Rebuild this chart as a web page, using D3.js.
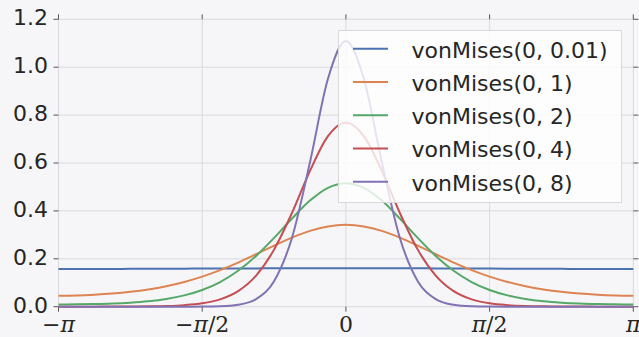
<!DOCTYPE html>
<html>
<head>
<meta charset="utf-8">
<script src="https://cdn.jsdelivr.net/npm/d3@7"></script>
<style>
  html, body { margin: 0; padding: 0; background: #f6f6f8; }
  svg { display: block; }
</style>
</head>
<body>
<div id="chart"></div>
<script>
// sample positions, in multiples of pi (steps of pi/16)
const xPi = [-1, -0.9375, -0.875, -0.8125, -0.75, -0.6875, -0.625, -0.5625, -0.5,
  -0.4375, -0.375, -0.3125, -0.25, -0.1875, -0.125, -0.0625, 0,
  0.0625, 0.125, 0.1875, 0.25, 0.3125, 0.375, 0.4375, 0.5,
  0.5625, 0.625, 0.6875, 0.75, 0.8125, 0.875, 0.9375, 1];

// densities (symmetric about 0)
const k001 = [0.1576, 0.1576, 0.1577, 0.1578, 0.1580, 0.1583, 0.1586, 0.1589, 0.1592,
  0.1595, 0.1598, 0.1600, 0.1603, 0.1605, 0.1606, 0.1607, 0.1608,
  0.1607, 0.1606, 0.1605, 0.1603, 0.1600, 0.1598, 0.1595, 0.1592,
  0.1589, 0.1586, 0.1583, 0.1580, 0.1578, 0.1577, 0.1576, 0.1576];
const k1 = [0.0462, 0.0471, 0.0499, 0.0547, 0.0620, 0.0721, 0.0857, 0.1034, 0.1257,
  0.1528, 0.1843, 0.2191, 0.2550, 0.2887, 0.3167, 0.3352, 0.3417,
  0.3352, 0.3167, 0.2887, 0.2550, 0.2191, 0.1843, 0.1528, 0.1257,
  0.1034, 0.0857, 0.0721, 0.0620, 0.0547, 0.0499, 0.0471, 0.0462];
const k2 = [0.0094, 0.0098, 0.0110, 0.0132, 0.0170, 0.0230, 0.0325, 0.0473, 0.0698,
  0.1031, 0.1501, 0.2121, 0.2872, 0.3683, 0.4430, 0.4965, 0.5159,
  0.4965, 0.4430, 0.3683, 0.2872, 0.2121, 0.1501, 0.1031, 0.0698,
  0.0473, 0.0325, 0.0230, 0.0170, 0.0132, 0.0110, 0.0098, 0.0094];
const k4 = [0.0003, 0.0003, 0.0003, 0.0005, 0.0008, 0.0015, 0.0030, 0.0065, 0.0141,
  0.0307, 0.0651, 0.1300, 0.2383, 0.3918, 0.5671, 0.7120, 0.7689,
  0.7120, 0.5671, 0.3918, 0.2383, 0.1300, 0.0651, 0.0307, 0.0141,
  0.0065, 0.0030, 0.0015, 0.0008, 0.0005, 0.0003, 0.0003, 0.0003];
const k8 = [0, 0, 0, 0, 0, 0, 0, 0.0001, 0.0004,
  0.0018, 0.0080, 0.0317, 0.1066, 0.2882, 0.6035, 0.9515, 1.1096,
  0.9515, 0.6035, 0.2882, 0.1066, 0.0317, 0.0080, 0.0018, 0.0004,
  0.0001, 0, 0, 0, 0, 0, 0, 0];

const seriesNames = ['vonMises(0, 0.01)', 'vonMises(0, 1)', 'vonMises(0, 2)', 'vonMises(0, 4)', 'vonMises(0, 8)'];
const seriesValues = [k001, k1, k2, k4, k8];
const colors = ['#4C72B0', '#DD8452', '#55A868', '#C44E52', '#8172B3'];

const yTicks = [0, 0.2, 0.4, 0.6, 0.8, 1.0, 1.2];
const xTicks = [-1, -0.5, 0, 0.5, 1];
const xTickParts = [['−', 'π', ''], ['−', 'π', '/2'], ['', '', '0'], ['', 'π', '/2'], ['', 'π', '']];

const width = 639, height = 337;
const margin = { top: 19.3, right: 5.7, bottom: 30.3, left: 58.5 };
const w = width - margin.left - margin.right;
const h = height - margin.top - margin.bottom;

const svg = d3.select('#chart').append('svg')
  .attr('width', width)
  .attr('height', height);

svg.append('rect').attr('width', width).attr('height', height).attr('fill', '#f6f6f8');

const g = svg.append('g').attr('transform', `translate(${margin.left},${margin.top})`);

const x = d3.scaleLinear().domain([-Math.PI, Math.PI]).range([0, w]);
const y = d3.scaleLinear().domain([0, 1.2]).range([h, 0]);

const gridColor = '#dadade';
const tickColor = '#555';

// grid
g.append('g').selectAll('line').data(yTicks).join('line')
  .attr('x1', 0).attr('x2', w)
  .attr('y1', d => y(d)).attr('y2', d => y(d))
  .attr('stroke', gridColor).attr('stroke-width', 1);
g.append('g').selectAll('line').data(xTicks).join('line')
  .attr('x1', d => x(d * Math.PI)).attr('x2', d => x(d * Math.PI))
  .attr('y1', 0).attr('y2', h)
  .attr('stroke', gridColor).attr('stroke-width', 1);

// ticks on all four sides
const tickLen = 5;
g.append('g').selectAll('line').data(yTicks).join('line')
  .attr('x1', -tickLen).attr('x2', 0)
  .attr('y1', d => y(d)).attr('y2', d => y(d))
  .attr('stroke', tickColor);
g.append('g').selectAll('line').data(yTicks).join('line')
  .attr('x1', w).attr('x2', w + tickLen)
  .attr('y1', d => y(d)).attr('y2', d => y(d))
  .attr('stroke', tickColor);
g.append('g').selectAll('line').data(xTicks).join('line')
  .attr('x1', d => x(d * Math.PI)).attr('x2', d => x(d * Math.PI))
  .attr('y1', h).attr('y2', h + tickLen)
  .attr('stroke', tickColor);
g.append('g').selectAll('line').data(xTicks).join('line')
  .attr('x1', d => x(d * Math.PI)).attr('x2', d => x(d * Math.PI))
  .attr('y1', -tickLen).attr('y2', 0)
  .attr('stroke', tickColor);

// y tick labels
g.append('g').selectAll('text').data(yTicks).join('text')
  .attr('x', -10.5)
  .attr('y', d => y(d))
  .attr('dy', '0.28em')
  .attr('text-anchor', 'end')
  .attr('font-family', 'DejaVu Sans')
  .attr('font-size', '22px')
  .attr('fill', '#262626')
  .text(d => d.toFixed(1));

// x tick labels (math style)
const xl = g.append('g').selectAll('text').data(xTicks).join('text')
  .attr('x', d => x(d * Math.PI))
  .attr('y', h + 25.5)
  .attr('text-anchor', 'middle')
  .attr('font-family', 'DejaVu Serif')
  .attr('font-size', '22px')
  .attr('fill', '#262626');
xl.each(function (d, i) {
  const parts = xTickParts[i];
  const t = d3.select(this);
  if (parts[0]) t.append('tspan').text(parts[0]);
  if (parts[1]) t.append('tspan').attr('font-style', 'italic').text(parts[1]);
  if (parts[2]) t.append('tspan').text(parts[2]);
});

// curves
const line = d3.line()
  .x((d, i) => x(xPi[i] * Math.PI))
  .y(d => y(d))
  .curve(d3.curveMonotoneX);

g.append('g').selectAll('path').data(seriesValues).join('path')
  .attr('d', line)
  .attr('fill', 'none')
  .attr('stroke', (d, i) => colors[i])
  .attr('stroke-width', 2);

// legend
const lg = svg.append('g');
lg.append('rect')
  .attr('x', 338.5).attr('y', 30.5)
  .attr('width', 283).attr('height', 172)
  .attr('fill', '#ffffff').attr('fill-opacity', 0.8)
  .attr('stroke', '#d8d8d8').attr('stroke-width', 1);
const rows = lg.selectAll('g.row').data(seriesNames).join('g')
  .attr('class', 'row')
  .attr('transform', (d, i) => `translate(0,${48.7 + i * 33.25})`);
rows.append('line')
  .attr('x1', 353).attr('x2', 388)
  .attr('y1', 0).attr('y2', 0)
  .attr('stroke', (d, i) => colors[i])
  .attr('stroke-width', 2);
rows.append('text')
  .attr('x', 411.5)
  .attr('y', 0)
  .attr('dy', '0.4em')
  .attr('font-family', 'DejaVu Sans')
  .attr('font-size', '22px')
  .attr('fill', '#262626')
  .text(d => d);
</script>
</body>
</html>
